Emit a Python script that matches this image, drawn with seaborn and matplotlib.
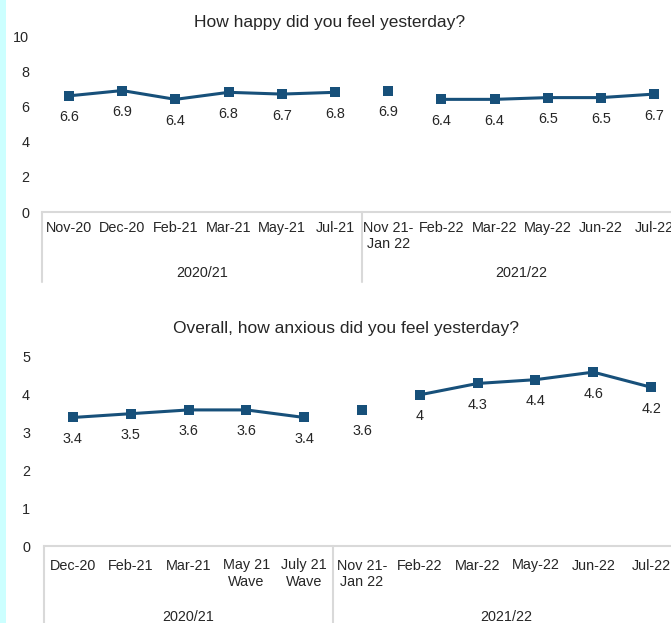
import numpy as np
import pandas as pd
import matplotlib
matplotlib.use("Agg")
import matplotlib.pyplot as plt
import matplotlib.transforms as mtrans
from matplotlib.lines import Line2D
from matplotlib.patches import Rectangle
import seaborn as sns

# ---------------- data ----------------
happy_cats = ["Nov-20", "Dec-20", "Feb-21", "Mar-21", "May-21", "Jul-21",
              "Nov 21-\nJan 22", "Feb-22", "Mar-22", "May-22", "Jun-22", "Jul-22"]
happy_vals = [6.6, 6.9, 6.4, 6.8, 6.7, 6.8, 6.9, 6.4, 6.4, 6.5, 6.5, 6.7]
happy_segments = [0, 0, 0, 0, 0, 0, 1, 2, 2, 2, 2, 2]
happy_groups = ["2020/21", "2021/22"]
happy_group_sizes = [6, 6]
happy_yticks = [0, 2, 4, 6, 8, 10]

anx_cats = ["Dec-20", "Feb-21", "Mar-21", "May 21\nWave", "July 21\nWave",
            "Nov 21-\nJan 22", "Feb-22", "Mar-22", "May-22", "Jun-22", "Jul-22"]
anx_vals = [3.4, 3.5, 3.6, 3.6, 3.4, 3.6, 4.0, 4.3, 4.4, 4.6, 4.2]
anx_labels = ["3.4", "3.5", "3.6", "3.6", "3.4", "3.6", "4", "4.3", "4.4", "4.6", "4.2"]
anx_segments = [0, 0, 0, 0, 0, 1, 2, 2, 2, 2, 2]
anx_groups = ["2020/21", "2021/22"]
anx_group_sizes = [5, 6]
anx_yticks = [0, 1, 2, 3, 4, 5]

# ---------------- style ----------------
sns.set_style("white")
plt.rcParams["font.family"] = ["Liberation Sans", "DejaVu Sans"]
LINE = "#17507a"
GRID = "#d9d9d9"
TXT = "#262626"
FS = 10.4

W, H = 671, 623
fig = plt.figure(figsize=(W / 100, H / 100), dpi=100)
fig.patches.append(Rectangle((0, 0), 6 / W, 1, transform=fig.transFigure,
                             facecolor="#ccffff", edgecolor="none", zorder=0))


def px_axes(left, right, y0, ytop):
    return fig.add_axes([left / W, 1 - y0 / H, (right - left) / W, (y0 - ytop) / H])


def draw(ax, cats, vals, labels, segs, groups, sizes, yticks, ylim,
         ypad, cat_pad, sep_bottom, group_y):
    df = pd.DataFrame({"pos": np.arange(len(cats)), "value": vals, "seg": segs})
    sns.lineplot(data=df, x="pos", y="value", units="seg", estimator=None,
                 color=LINE, marker="s", markersize=6.5, markeredgewidth=0,
                 linewidth=2.2, ax=ax, zorder=3)
    for x, v, lab in zip(df["pos"], vals, labels):
        ax.annotate(lab, (x, v), xytext=(0, -15.5), textcoords="offset points",
                    ha="center", va="center", fontsize=FS, color=TXT)
    ax.set_xlim(-0.5, len(cats) - 0.5)
    ax.set_ylim(*ylim)
    ax.set_yticks(yticks)
    ax.set_yticklabels([str(t) for t in yticks], fontsize=FS, color=TXT)
    ax.set_xticks(np.arange(len(cats)))
    ax.set_xticklabels(cats, fontsize=FS, color=TXT, linespacing=1.2)
    ax.tick_params(axis="y", length=0, pad=ypad)
    ax.tick_params(axis="x", length=0, pad=cat_pad)
    ax.set_xlabel("")
    ax.set_ylabel("")
    for s in ["top", "right", "left"]:
        ax.spines[s].set_visible(False)
    ax.spines["bottom"].set_color(GRID)
    ax.spines["bottom"].set_linewidth(1.5)
    ax.grid(False)
    trans = mtrans.blended_transform_factory(ax.transData, ax.transAxes)
    bounds = np.concatenate([[0], np.cumsum(sizes)]) - 0.5
    for b in bounds:
        ax.add_line(Line2D([b, b], [0, sep_bottom], transform=trans,
                           color=GRID, linewidth=1.5, clip_on=False))
    for g, a, b in zip(groups, bounds[:-1], bounds[1:]):
        ax.text((a + b) / 2, group_y, g, transform=trans, ha="center",
                va="baseline", fontsize=FS, color=TXT)


# top chart
ax1 = px_axes(42.4, 680.8, 212, 36)
h_top = 212 - 36
draw(ax1, happy_cats, happy_vals, [f"{v:.1f}" for v in happy_vals],
     happy_segments, happy_groups, happy_group_sizes, happy_yticks, (0, 10),
     ypad=9.5, cat_pad=6.5, sep_bottom=-(282 - 212) / h_top,
     group_y=-(277 - 212) / h_top)
fig.text(330 / W, 1 - 27 / H, "How happy did you feel yesterday?",
         ha="center", va="baseline", fontsize=12.5, color=TXT)

# bottom chart
ax2 = px_axes(44.0, 680.0, 546, 357)
h_bot = 546 - 357
draw(ax2, anx_cats, anx_vals, anx_labels, anx_segments, anx_groups,
     anx_group_sizes, anx_yticks, (0, 5),
     ypad=10, cat_pad=9, sep_bottom=-(640 - 546) / h_bot,
     group_y=-(621 - 546) / h_bot)
fig.text(346 / W, 1 - 333 / H, "Overall, how anxious did you feel yesterday?",
         ha="center", va="baseline", fontsize=12.5, color=TXT)

fig.savefig("out.png", dpi=100)
